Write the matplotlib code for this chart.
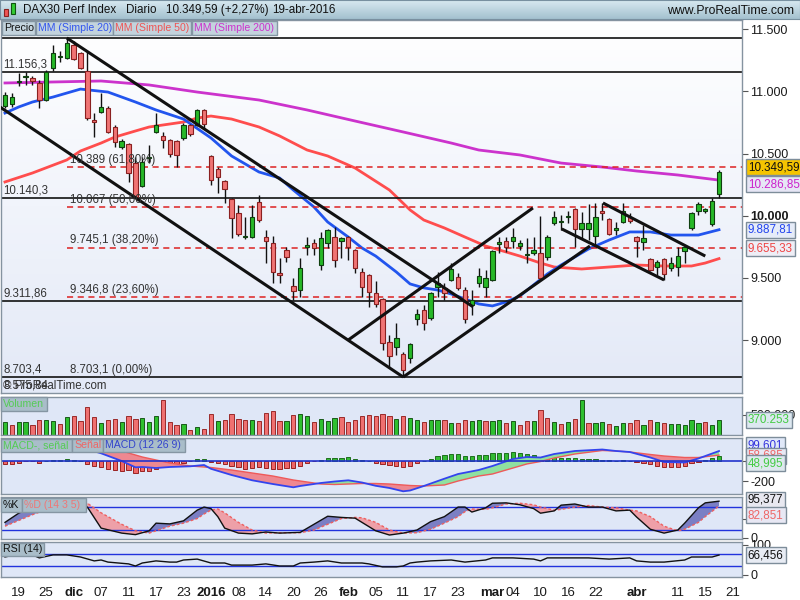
import numpy as np
import pandas as pd
import matplotlib
matplotlib.use('Agg')
import matplotlib.pyplot as plt
from matplotlib.patches import Rectangle
from matplotlib.colors import LinearSegmentedColormap

plt.rcParams['font.family'] = ['Liberation Sans', 'DejaVu Sans']

W, H = 800, 600

# Xetra trading days (holidays removed); the last two are empty slots
holidays = pd.to_datetime(['2015-12-24', '2015-12-25', '2015-12-31',
                           '2016-01-01', '2016-03-25', '2016-03-28'])
days = pd.bdate_range('2015-11-17', '2016-04-21')
days = days[~days.isin(holidays)]

# daily candles 17-nov-2015 .. 19-abr-2016
opens = [10883, 10899, 11076, 11116, 11108, 11068, 10931, 11188, 11277, 11269,
         11373, 11309, 11164, 10770, 10835, 10867, 10714, 10553, 10577, 10424,
         10240, 10465, 10674, 10642, 10609, 10601, 10625, 10730, 10730, 10851,
         10481, 10376, 10280, 10135, 10023, 9829, 9829, 10111, 9829, 9781,
         9540, 9725, 9436, 9403, 9753, 9781, 9604, 9781, 9829, 9797,
         9829, 9725, 9548, 9524, 9379, 9331, 8985, 8945, 8889, 8856,
         9170, 9242, 9178, 9428, 9420, 9484, 9508, 9403, 9283, 9460,
         9428, 9484, 9777, 9797, 9797, 9757, 9689, 9701, 9701, 9668,
         9942, 9950, 9990, 10055, 9894, 9894, 9837, 10039, 9974, 9890,
         9950, 9990, 9829, 9789, 9652, 9588, 9652, 9580, 9588, 9717,
         9902, 10039, 10043, 9934, 10175]
highs = [10995, 10987, 11148, 11156, 11124, 11092, 11172, 11373, 11325, 11430,
         11405, 11317, 11317, 10826, 10987, 10883, 10730, 10617, 10585, 10473,
         10473, 10569, 10826, 10674, 10617, 10609, 10746, 10738, 10859, 10859,
         10489, 10392, 10288, 10143, 10087, 9990, 10087, 10167, 9886, 9837,
         9660, 9749, 9500, 9660, 9829, 9813, 9870, 9894, 9910, 9829,
         9837, 9733, 9580, 9532, 9476, 9339, 9041, 9138, 8905, 8977,
         9250, 9283, 9387, 9548, 9460, 9620, 9540, 9428, 9403, 9580,
         9564, 9725, 9829, 9829, 9902, 9805, 9821, 9829, 9998, 9845,
         10039, 10006, 10039, 10063, 10031, 10095, 10103, 10103, 9982, 9950,
         10103, 10023, 9837, 9926, 9660, 9644, 9660, 9668, 9749, 9765,
         10031, 10111, 10063, 10143, 10368]
lows = [10867, 10875, 11044, 11052, 11052, 10867, 10923, 11164, 11237, 11261,
        11253, 11180, 10770, 10633, 10826, 10666, 10553, 10537, 10272, 10140,
        10232, 10424, 10666, 10545, 10473, 10392, 10609, 10642, 10722, 10706,
        10248, 10183, 10103, 9821, 9837, 9813, 9821, 9950, 9620, 9460,
        9460, 9628, 9323, 9347, 9685, 9685, 9564, 9741, 9588, 9660,
        9644, 9540, 9347, 9266, 9266, 8921, 8784, 8880, 8703.1, 8816,
        9122, 9081, 9162, 9347, 9323, 9476, 9403, 9138, 9202, 9428,
        9347, 9476, 9701, 9709, 9741, 9725, 9620, 9685, 9484, 9644,
        9926, 9886, 9942, 9749, 9821, 9805, 9765, 9966, 9845, 9845,
        9942, 9942, 9668, 9725, 9556, 9524, 9484, 9556, 9516, 9620,
        9886, 10006, 10023, 9918, 10143]
closes = [10971, 10955, 11084, 11124, 11084, 10931, 11156, 11309, 11285, 11390,
          11261, 11188, 10786, 10754, 10875, 10674, 10593, 10601, 10344, 10151,
          10432, 10473, 10730, 10609, 10497, 10489, 10730, 10658, 10851, 10738,
          10288, 10312, 10216, 9982, 9854, 9837, 9990, 9966, 9797, 9548,
          9524, 9668, 9395, 9580, 9761, 9741, 9821, 9886, 9644, 9821,
          9749, 9580, 9428, 9387, 9291, 8977, 8872, 9017, 8760, 8969,
          9210, 9138, 9379, 9460, 9379, 9572, 9420, 9170, 9323, 9516,
          9500, 9717, 9785, 9749, 9829, 9781, 9693, 9725, 9500, 9829,
          9990, 9958, 9998, 9894, 9942, 9942, 9990, 10023, 9854, 9898,
          10039, 9958, 9797, 9821, 9564, 9628, 9532, 9620, 9676, 9749,
          10023, 10095, 10051, 10120, 10349.59]

# moving averages, read at sample bars
ma20_idx = [0, 2, 4, 7, 9, 11, 15, 19, 22, 26, 30, 33, 37, 40, 42, 45, 47, 50, 52, 54,
            57, 59, 61, 63, 65, 67, 69, 71, 73, 75, 77, 79, 81, 85, 88, 91, 94, 97, 101, 104]
ma20_val = [10826, 10875, 10915, 10955, 10987, 11019, 10995, 10915, 10851, 10778,
            10626, 10481, 10352, 10304, 10207, 10071, 9950, 9829, 9741, 9676,
            9548, 9452, 9420, 9403, 9371, 9331, 9291, 9275, 9307, 9355,
            9444, 9532, 9604, 9733, 9805, 9870, 9870, 9845, 9845, 9887.81]
ma50_idx = [0, 4, 9, 11, 14, 16, 19, 21, 24, 26, 28, 30, 33, 37, 40, 44, 47, 51, 56, 59,
            61, 64, 67, 70, 72, 75, 78, 80, 84, 88, 92, 96, 100, 102, 104]
ma50_val = [10272, 10344, 10449, 10521, 10585, 10633, 10682, 10714, 10738, 10754,
            10786, 10802, 10778, 10714, 10642, 10529, 10481, 10384, 10207, 10047,
            9966, 9902, 9829, 9757, 9725, 9676, 9620, 9588, 9572, 9588,
            9604, 9596, 9596, 9620, 9655.33]
ma200_idx = [0, 7, 14, 21, 28, 37, 44, 51, 58, 65, 69, 75, 81, 87, 92, 98, 104]
ma200_val = [11068, 11076, 11084, 11052, 10995, 10931, 10851, 10762, 10674, 10585,
             10529, 10489, 10424, 10392, 10360, 10328, 10286.85]

# support / resistance and Fibonacci levels
h_levels = [11430.2, 11156.3, 10140.3, 9311.86, 8703.4]
h_labels = ['11.430,2', '11.156,3', '10.140,3', '9.311,86', '8.703,4']
fib_levels = [11430.2, 10388.4, 10066.6, 9744.8, 9346.7, 8703.1]
fib_labels = ['11.430,2 (100,00%)', '10.389 (61,80%)', '10.067 (50,00%)',
              '9.745,1 (38,20%)', '9.346,8 (23,60%)', '8.703,1 (0,00%)']
fib_start = 9

# trend lines: (bar, price) -> (bar, price)
trend_lines = [(9, 11430, 68.2, 9267), (-1, 10885, 58, 8703.1),
               (58, 8703.1, 85.2, 9757), (50, 9001, 76.9, 10063),
               (87.1, 10103, 102, 9676), (81.1, 9894, 96, 9484)]

# volume (thousands) and bar colour
volume = [313, 247, 313, 313, 247, 363, 363, 338, 264, 437,
          462, 338, 684, 437, 289, 363, 388, 313, 462, 388,
          412, 313, 462, 857, 313, 247, 264, 116, 190, 141,
          511, 338, 363, 511, 388, 363, 363, 338, 536, 585,
          338, 338, 486, 511, 462, 313, 388, 338, 412, 437,
          313, 363, 462, 486, 462, 511, 462, 395, 469, 412,
          363, 313, 363, 363, 363, 289, 289, 363, 338, 363,
          338, 338, 363, 289, 338, 239, 338, 338, 610, 412,
          313, 264, 313, 388, 857, 289, 289, 313, 264, 215,
          289, 289, 363, 239, 363, 313, 289, 264, 264, 239,
          363, 289, 313, 239, 370.253]
vol_dir = ('grggrrggrg' 'rrrrgrrgrr' 'gggrrrgrgr' 'rgrrrrgrrr' 'rgrggrgggr'
           'rrrrrrrgrg' 'grggrgrrgg' 'rggrgrrgrr' 'grgrgrggrg' 'grrgrgrggg' 'ggrgg')

# MACD (12 26 9)
macd_idx = [0, 5, 9, 12, 14, 17, 19, 20, 22, 24, 27, 29, 30, 33, 36, 39, 42, 43, 46, 48,
            50, 52, 54, 56, 58, 59, 61, 64, 66, 69, 71, 74, 76, 78, 80, 83, 87, 89, 91, 94,
            96, 99, 101, 104]
macd_line = [157, 158, 180, 117, 77, 0, -63, -60, -70, -60,
             -53, -40, -78, -140, -193, -230, -263, -250, -220, -205,
             -193, -215, -248, -270, -303, -295, -250, -177, -130, -90,
             -50, 20, 40, 35, 70, 100, 115, 100, 90, 35,
             -10, -15, 25, 99.601]
signal_line = [190, 175, 160, 150, 140, 100, 60, 40, 10, -20,
               -50, -60, -65, -90, -120, -150, -190, -200, -230, -235,
               -230, -225, -225, -230, -240, -245, -250, -240, -200, -150,
               -130, -70, -30, -5, 30, 70, 105, 100, 90, 65,
               50, 35, 35, 58.685]
macd_hist = [-33, -27, -17, -3, -3, -17, 0, 13, 13, 20,
             10, 0, -33, -50, -63, -80, -90, -100, -90, -123,
             -100, -100, -80, -50, -40, -30, -17, -3, 20, 20,
             -13, -23, -33, -50, -63, -80, -73, -63, -73, -80,
             -80, -73, -73, -50, -17, -3, 10, 30, 30, 30,
             37, 23, 10, 0, -23, -33, -40, -50,
             -63, -50, -20, 0, 20, 50, 63, 70, 70, 50,
             50, 60, 60, 80, 80, 80, 90, 80, 70, 60,
             40, 40, 40, 30, 30, 30, 20, 20, 20, 10,
             10, 0, 10, 0, -10, -20, -30, -50, -60, -60,
             -60, -50, -20, -10, 10, 30, 48.995]

# Stochastic %K / %D (14 3 5)
stoch_idx = [0, 2, 4, 7, 10, 12, 14, 17, 19, 21, 22, 24, 26, 28, 29, 30, 31, 32, 34, 36,
             38, 40, 43, 45, 47, 49, 51, 52, 54, 56, 58, 60, 62, 64, 66, 67, 68, 70, 71, 73,
             75, 77, 78, 80, 81, 83, 85, 87, 89, 91, 92, 94, 96, 98, 99, 101, 102, 104]
stoch_k = [40, 64, 80, 90, 92, 80, 25, 12, 8, 18, 38, 36, 44, 72, 80, 76, 55, 25, 12, 10,
           15, 12, 14, 35, 56, 53, 51, 40, 18, 7, 12, 20, 42, 55, 80, 80, 67, 78, 90, 91,
           86, 76, 64, 70, 85, 88, 80, 80, 70, 72, 54, 22, 12, 20, 38, 78, 91, 95.377]
stoch_d = [30, 45, 60, 80, 90, 90, 65, 35, 18, 12, 18, 30, 38, 50, 62, 72, 75, 65, 40, 20,
           12, 13, 13, 20, 35, 50, 53, 52, 40, 20, 12, 13, 22, 38, 55, 68, 75, 74, 78, 88,
           90, 86, 80, 72, 74, 80, 84, 80, 78, 72, 70, 55, 30, 18, 22, 40, 55, 82.851]

# RSI (14)
rsi_idx = [0, 2, 4, 5, 7, 9, 11, 13, 14, 15, 18, 19, 20, 22, 24, 25, 26, 28, 30, 32,
           33, 36, 38, 40, 42, 43, 45, 47, 49, 52, 53, 55, 57, 58, 59, 60, 62, 65, 67, 70,
           71, 74, 77, 78, 79, 82, 85, 88, 91, 92, 94, 96, 99, 100, 103, 104]
rsi_val = [60, 70, 67, 57, 67, 67, 60, 47, 50, 43, 37, 30, 40, 47, 43, 43, 50, 53, 40, 40,
           33, 33, 37, 30, 30, 40, 43, 47, 40, 40, 37, 27, 27, 30, 40, 43, 47, 50, 43, 50,
           57, 57, 53, 47, 57, 57, 57, 53, 57, 47, 43, 43, 50, 60, 60, 66.456]

tick_dates = ['2015-11-19', '2015-11-25', '2015-12-01', '2015-12-07', '2015-12-11',
              '2015-12-17', '2015-12-23', '2016-01-04', '2016-01-08', '2016-01-14',
              '2016-01-20', '2016-01-26', '2016-02-01', '2016-02-05', '2016-02-11',
              '2016-02-17', '2016-02-23', '2016-03-01', '2016-03-04', '2016-03-10',
              '2016-03-16', '2016-03-22', '2016-04-01', '2016-04-11', '2016-04-15',
              '2016-04-21']
tick_labels = ['19', '25', 'dic', '07', '11', '17', '23', '2016', '08', '14', '20', '26',
               'feb', '05', '11', '17', '23', 'mar', '04', '10', '16', '22', 'abr', '11',
               '15', '21']


def es(v, dec=0):
    s = f"{v:,.{dec}f}"
    return s.replace(',', 'X').replace('.', ',').replace('X', '.')


fig = plt.figure(figsize=(W / 100, H / 100), dpi=100, facecolor='white')


def px_axes(x0, y0, x1, y1):
    return fig.add_axes([x0 / W, 1 - y1 / H, (x1 - x0) / W, (y1 - y0) / H])


def panel(x0, y0, x1, y1, face):
    ax = px_axes(x0, y0, x1, y1)
    ax.set_facecolor(face)
    for sp in ax.spines.values():
        sp.set_color('#8593a0')
        sp.set_linewidth(1)
    ax.yaxis.tick_right()
    ax.tick_params(axis='x', bottom=False, labelbottom=False)
    ax.tick_params(axis='y', right=True, left=False, length=4, width=0.8,
                   color='#555555', labelsize=9, labelcolor='#1a1a1a', pad=2)
    return ax


def tag(x0, y0, x1, y1, text, color, fc):
    fig.add_artist(Rectangle((x0 / W, 1 - y1 / H), (x1 - x0) / W, (y1 - y0) / H,
                             transform=fig.transFigure, fc=fc, ec='#8596a3', lw=1, zorder=20))
    fig.text((x0 + 2) / W, 1 - (y0 + y1) / 2 / H, text, color=color, fontsize=7.6,
             va='center', ha='left', zorder=21)


def value_box(ax, val, text, fc, tc, dy=0):
    ax.annotate(text, xy=(1, val), xycoords=('axes fraction', 'data'),
                xytext=(4.2, dy), textcoords='offset points', ha='left', va='center',
                fontsize=8.4, color=tc, annotation_clip=False, zorder=30,
                bbox=dict(boxstyle='square,pad=0.18', fc=fc, ec='#7d8d9a', lw=1))


xlim = (-0.58, 107.35)
idx = np.arange(len(closes))
o, h, l, c = (np.array(a, dtype=float) for a in (opens, highs, lows, closes))

# ---- header ----
ax_head = px_axes(0, 0, 800, 19)
ax_head.imshow(np.linspace(0, 1, 50).reshape(-1, 1), aspect='auto', extent=[0, 1, 0, 1],
               cmap=LinearSegmentedColormap.from_list('hd', ['#d8e9f1', '#a4c1cf']))
ax_head.set_xticks([])
ax_head.set_yticks([])
for sp in ax_head.spines.values():
    sp.set_color('#7890a0')
fig.add_artist(Rectangle((4 / W, 1 - 16 / H), 4 / W, 7 / H, transform=fig.transFigure,
                         fc='#ee5555', ec='#882222', lw=0.8, zorder=22))
fig.add_artist(Rectangle((11 / W, 1 - 14 / H), 4 / W, 11 / H, transform=fig.transFigure,
                         fc='#33cc33', ec='#115511', lw=0.8, zorder=22))
for xx, txt in [(23, 'DAX30 Perf Index'), (126, 'Diario'),
                (166, es(closes[-1], 2) + ' (+2,27%)'), (272, '19-abr-2016')]:
    fig.text(xx / W, 1 - 10 / H, txt, fontsize=8.4, va='center', color='#111111', zorder=22)
fig.text(794 / W, 1 - 11 / H, 'www.ProRealTime.com', fontsize=8.8, ha='right', va='center',
         color='#111111', zorder=22)

# ---- price panel ----
ax = panel(1, 20, 742, 393, '#f4f6fc')
ax.imshow(np.linspace(0, 1, 100).reshape(-1, 1), aspect='auto', extent=[0, 1, 0, 1],
          transform=ax.transAxes, zorder=0,
          cmap=LinearSegmentedColormap.from_list('bg', ['#ffffff', '#e3e9f7']))
ax.plot(ma200_idx, ma200_val, color='#cc33cc', lw=2, zorder=2)
ax.plot(ma50_idx, ma50_val, color='#ff4d4d', lw=2, zorder=2)
ax.plot(ma20_idx, ma20_val, color='#2255ee', lw=2, zorder=2)
for lev, lab in zip(h_levels, h_labels):
    ax.axhline(lev, color='#111111', lw=1.2, zorder=2.5)
    ax.text(-0.2, lev + 12, lab, fontsize=8.3, color='#333333', va='bottom', zorder=6)
for k, (lev, lab) in enumerate(zip(fib_levels, fib_labels)):
    if 0 < k < len(fib_levels) - 1:
        ax.plot([fib_start, xlim[1]], [lev, lev], color='#dd2222', lw=1.1,
                dashes=(4, 3), zorder=2.5)
    ax.text(fib_start + 0.4, lev + 12, lab, fontsize=8.3, color='#333333',
            va='bottom', zorder=6)

up = c >= o
body_h = np.maximum(np.abs(c - o), 10)
body_lo = (o + c) / 2 - body_h / 2
ax.vlines(idx, l, h, color='#111111', lw=1, zorder=3)
ax.bar(idx[up], body_h[up], bottom=body_lo[up], width=0.64, color='#27b827',
       edgecolor='#0f3f0f', lw=0.8, zorder=4)
ax.bar(idx[~up], body_h[~up], bottom=body_lo[~up], width=0.64, color='#f07474',
       edgecolor='#8a2020', lw=0.8, zorder=4)
for x0, p0, x1, p1 in trend_lines:
    ax.plot([x0, x1], [p0, p1], color='#111111', lw=2.2, zorder=5, solid_capstyle='butt')

ax.set_xlim(*xlim)
ax.set_ylim(8574.7, 11574.5)
price_ticks = [9000, 9500, 10000, 10500, 11000, 11500]
ax.set_yticks(price_ticks)
ax.set_yticklabels([es(t) for t in price_ticks])
for lbl in ax.get_yticklabels():
    if lbl.get_text() == '10.000':
        lbl.set_fontweight('bold')
value_box(ax, closes[-1], es(closes[-1], 2), '#f5c400', '#111111', dy=3.6)
value_box(ax, ma200_val[-1], es(ma200_val[-1], 2), '#e6e6f5', '#cc22cc', dy=-2.9)
value_box(ax, ma20_val[-1], es(ma20_val[-1], 2), '#e6ecf8', '#2244ee')
value_box(ax, ma50_val[-1], es(ma50_val[-1], 2), '#eeeef6', '#ee4444', dy=7.6)
fig.text(3 / W, 1 - 386 / H, '8.575,84', fontsize=8.3, color='#333333', va='center')
fig.text(3 / W, 1 - 386 / H, '\u00a9 ProRealTime.com', fontsize=8.3, color='#333333',
         va='center')

# ---- volume ----
axv = panel(1, 397, 742, 435, '#dfe7f7')
vol = np.array(volume)
vcol = np.array([ch == 'g' for ch in vol_dir])
axv.bar(idx[vcol], vol[vcol], width=0.62, color='#2fc02f', edgecolor='#1a5a1a', lw=0.7)
axv.bar(idx[~vcol], vol[~vcol], width=0.62, color='#ef7070', edgecolor='#9a2a2a', lw=0.7)
axv.set_xlim(*xlim)
axv.set_ylim(0, 938)
axv.set_yticks([500])
axv.set_yticklabels(['500.000'])
value_box(axv, volume[-1], es(volume[-1] * 1000), '#dde8f0', '#44cc44')

# ---- MACD ----
axm = panel(1, 438, 742, 494, '#dfe7f7')
hist = np.array(macd_hist)
pos = hist >= 0
axm.bar(idx[pos], hist[pos], width=0.62, color='#33bb33', edgecolor='#1e6e1e', lw=0.7)
axm.bar(idx[~pos], hist[~pos], width=0.62, color='#ee6666', edgecolor='#992222', lw=0.7)
ml, sl = np.array(macd_line), np.array(signal_line)
axm.fill_between(macd_idx, ml, sl, where=ml >= sl, interpolate=True, color='#8fe0a0', lw=0)
axm.fill_between(macd_idx, ml, sl, where=ml < sl, interpolate=True, color='#ee8890', lw=0)
axm.plot(macd_idx, signal_line, color='#ee5a5a', lw=1)
axm.plot(macd_idx, macd_line, color='#3344ee', lw=1.3)
axm.axhline(0, color='#2233cc', lw=1.2)
axm.set_xlim(*xlim)
axm.set_ylim(-330, 230)
axm.set_yticks([-200, 0])
axm.set_yticklabels(['-200', '0'])
value_box(axm, macd_line[-1], es(macd_line[-1], 3), '#e0e8f8', '#3333dd', dy=4.3)
value_box(axm, signal_line[-1], es(signal_line[-1], 3), '#e8e8f4', '#ee6666', dy=-0.5)
value_box(axm, macd_hist[-1], es(macd_hist[-1], 3), '#dde8ee', '#44cc44', dy=-5)

# ---- Stochastic ----
axs = panel(1, 497, 742, 539, '#dfe7f7')
kk, dd = np.array(stoch_k), np.array(stoch_d)
axs.fill_between(stoch_idx, kk, dd, where=kk >= dd, interpolate=True, color='#7b7fc4', lw=0)
axs.fill_between(stoch_idx, kk, dd, where=kk < dd, interpolate=True, color='#eea0a8', lw=0)
axs.axhline(80, color='#2233dd', lw=1)
axs.axhline(20, color='#2233dd', lw=1)
axs.plot(stoch_idx, stoch_d, color='#ee6060', lw=1, dashes=(2, 1.5))
axs.plot(stoch_idx, stoch_k, color='#111111', lw=1)
axs.set_xlim(*xlim)
axs.set_ylim(-3.4, 106.3)
axs.set_yticks([0, 50])
axs.set_yticklabels(['0', '50'])
value_box(axs, stoch_k[-1], es(stoch_k[-1], 3), '#e8e8f0', '#111111', dy=1)
value_box(axs, stoch_d[-1], es(stoch_d[-1], 3), '#e8e8f4', '#ee6666', dy=-6.5)

# ---- RSI ----
axr = panel(1, 542, 742, 577, '#dfe7f7')
axr.axhline(70, color='#2233dd', lw=1)
axr.axhline(30, color='#2233dd', lw=1)
axr.plot(rsi_idx, rsi_val, color='#111111', lw=1)
axr.set_xlim(*xlim)
axr.set_ylim(-6.7, 110)
axr.set_yticks([0, 100])
axr.set_yticklabels(['0', '100'])
value_box(axr, rsi_val[-1], es(rsi_val[-1], 3), '#e8ecf4', '#111111')

tick_pos = [days.get_loc(pd.Timestamp(d)) for d in tick_dates]
axr.set_xticks(tick_pos)
axr.set_xticklabels(tick_labels)
axr.tick_params(axis='x', bottom=True, labelbottom=True, length=0, pad=7,
                labelsize=9.5, labelcolor='#1a1a1a')
for lbl in axr.get_xticklabels():
    if not lbl.get_text().isdigit() or lbl.get_text() == '2016':
        lbl.set_fontweight('bold')

# ---- panel name tags ----
main_fc, ind_fc = '#c3d3dd', '#a9bdc9'
tag(2, 21, 35, 35, 'Precio', '#111111', main_fc)
tag(36, 21, 113, 35, 'MM (Simple 20)', '#3355ee', main_fc)
tag(113, 21, 191, 35, 'MM (Simple 50)', '#ee5555', main_fc)
tag(192, 21, 277, 35, 'MM (Simple 200)', '#cc33cc', main_fc)
tag(1, 397, 47, 411, 'Volumen', '#55cc55', ind_fc)
tag(1, 439, 72, 452, 'MACD-, señal', '#55cc55', ind_fc)
tag(72, 439, 103, 452, 'Señal', '#ee6666', ind_fc)
tag(103, 439, 185, 452, 'MACD (12 26 9)', '#3344cc', ind_fc)
tag(1, 498, 22, 512, '%K', '#111111', ind_fc)
tag(22, 498, 86, 512, '%D (14 3 5)', '#ee7777', ind_fc)
tag(1, 543, 44, 556, 'RSI (14)', '#111111', ind_fc)

fig.savefig('out.png', dpi=100, facecolor='white')
